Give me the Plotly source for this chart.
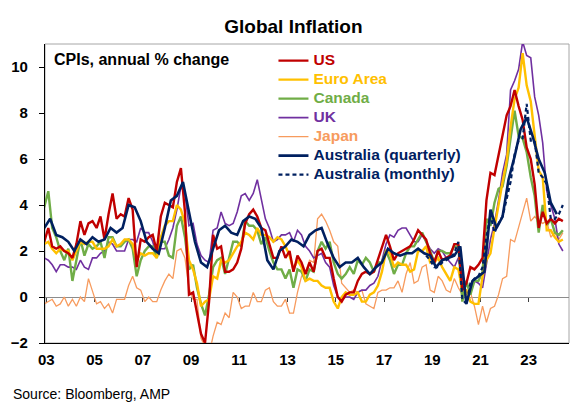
import pandas as pd
import plotly.graph_objects as go

# ---- data (annual % change), bimonthly grid Dec-2002 .. Jun-2024 ----
dates_m = pd.date_range("2002-12-01", "2024-06-01", freq="2MS")

us = [2.4,
      3.0, 2.2, 2.1, 2.2, 2.0, 1.9,
      1.7, 2.3, 3.3, 2.7, 3.2, 3.3,
      3.0, 3.5, 2.5, 3.6, 4.5, 3.4,
      3.6, 3.5, 4.3, 3.8, 1.3, 2.5,
      2.4, 2.6, 2.7, 2.0, 3.5, 4.1,
      4.0, 3.9, 5.0, 5.6, 3.7, 0.1,
      0.2, -0.7, -1.6, -2.0, -0.2, 2.7,
      2.1, 2.2, 1.1, 1.1, 1.2, 1.5,
      2.1, 3.2, 3.6, 3.8, 3.5, 3.0,
      2.9, 2.3, 1.7, 1.7, 2.2, 1.7,
      2.0, 1.1, 1.8, 1.5, 1.0, 1.5,
      1.1, 2.0, 2.1, 1.7, 1.7, 0.8,
      0.0, -0.2, 0.1, 0.2, 0.2, 0.7,
      1.0, 1.1, 1.0, 1.1, 1.6, 2.1,
      2.7, 2.2, 1.6, 1.9, 2.0, 2.1,
      2.2, 2.5, 2.9, 2.7, 2.5, 1.9,
      1.5, 2.0, 1.6, 1.7, 1.8, 2.3,
      2.3, 0.3, 0.6, 1.3, 1.2, 1.4,
      1.7, 4.2, 5.4, 5.3, 6.2, 7.0,
      7.9, 8.3, 9.0, 8.3, 7.7, 6.5,
      6.0, 4.9, 3.0, 3.7, 3.2, 3.4,
      3.2, 3.4, 3.3]

euro = [2.3,
        2.4, 2.1, 1.9, 2.1, 2.0, 2.0,
        1.6, 2.0, 2.4, 2.3, 2.4, 2.4,
        2.1, 2.1, 2.1, 2.2, 2.5, 2.2,
        2.3, 2.5, 2.5, 2.3, 1.6, 1.9,
        1.8, 1.9, 1.9, 1.7, 2.6, 3.1,
        3.3, 3.3, 4.0, 3.8, 3.2, 1.6,
        1.2, 0.6, -0.4, -0.2, -0.1, 0.9,
        0.8, 1.6, 1.5, 1.6, 1.9, 2.2,
        2.4, 2.8, 2.7, 2.5, 3.0, 2.7,
        2.7, 2.6, 2.4, 2.6, 2.5, 2.2,
        1.8, 1.2, 1.6, 1.3, 0.7, 0.8,
        0.7, 0.7, 0.5, 0.4, 0.4, -0.2,
        -0.5, 0.0, 0.2, 0.1, 0.1, 0.2,
        -0.2, -0.2, 0.1, 0.2, 0.5, 1.1,
        2.0, 1.9, 1.3, 1.5, 1.4, 1.4,
        1.1, 1.2, 2.0, 2.0, 2.2, 1.5,
        1.5, 1.7, 1.3, 1.0, 0.7, 1.3,
        1.2, 0.3, 0.3, -0.2, -0.3, -0.3,
        0.9, 1.6, 1.9, 3.0, 4.1, 5.0,
        5.9, 7.4, 8.6, 9.1, 10.6, 9.2,
        8.5, 7.0, 5.5, 5.2, 2.9, 2.9,
        2.6, 2.4, 2.5]

canada = [3.9,
          4.6, 3.0, 2.6, 2.0, 1.6, 2.1,
          0.7, 1.6, 2.5, 1.8, 2.3, 2.1,
          2.2, 2.4, 1.7, 2.6, 2.6, 2.2,
          2.2, 2.4, 2.5, 2.1, 0.9, 1.6,
          2.0, 2.2, 2.2, 1.7, 2.4, 2.4,
          1.8, 1.7, 3.1, 3.5, 2.6, 1.2,
          1.4, 0.4, -0.3, -0.8, 0.1, 1.3,
          1.6, 1.7, 1.0, 1.7, 2.4, 2.4,
          2.2, 3.3, 3.1, 3.1, 2.9, 2.3,
          2.6, 2.0, 1.5, 1.2, 1.2, 0.8,
          1.2, 0.4, 1.2, 1.1, 0.7, 1.2,
          1.1, 2.0, 2.4, 2.1, 2.4, 1.5,
          1.0, 0.8, 1.0, 1.3, 1.0, 1.6,
          1.4, 1.7, 1.5, 1.1, 1.5, 1.5,
          2.0, 1.6, 1.0, 1.4, 1.4, 1.9,
          2.2, 2.2, 2.5, 2.8, 2.4, 2.0,
          1.5, 2.0, 2.0, 1.9, 1.9, 2.2,
          2.2, -0.2, 0.7, 0.1, 0.7, 0.7,
          1.1, 3.4, 3.1, 4.1, 4.7, 4.8,
          5.7, 6.8, 8.1, 7.0, 6.9, 6.3,
          5.2, 4.4, 2.8, 4.0, 3.1, 3.4,
          2.8, 2.7, 2.9]

uk = [1.7,
      1.6, 1.4, 1.1, 1.4, 1.4, 1.3,
      1.3, 1.2, 1.6, 1.3, 1.2, 1.7,
      1.7, 1.9, 2.0, 2.4, 2.3, 2.0,
      2.0, 2.0, 2.5, 2.5, 2.4, 3.0,
      2.8, 2.8, 2.4, 1.8, 2.1, 2.1,
      2.5, 3.0, 3.8, 4.8, 4.5, 3.1,
      3.2, 2.3, 1.8, 1.6, 1.5, 2.9,
      3.0, 3.7, 3.2, 3.1, 3.2, 3.7,
      4.4, 4.5, 4.2, 4.5, 5.1, 4.2,
      3.4, 3.0, 2.4, 2.5, 2.7, 2.7,
      2.8, 2.4, 2.9, 2.7, 2.2, 2.0,
      1.7, 1.8, 1.9, 1.5, 1.3, 0.5,
      0.0, -0.1, 0.0, 0.0, -0.1, 0.2,
      0.3, 0.3, 0.5, 0.6, 0.9, 1.6,
      2.3, 2.7, 2.6, 2.9, 3.0, 3.0,
      2.7, 2.4, 2.4, 2.7, 2.4, 2.1,
      1.9, 2.1, 2.0, 1.7, 1.5, 1.3,
      1.7, 0.8, 0.6, 0.2, 0.7, 0.6,
      0.4, 1.5, 2.5, 3.2, 4.2, 5.4,
      6.2, 9.0, 9.4, 9.9, 11.1, 10.5,
      10.4, 8.7, 7.9, 6.7, 4.6, 4.0,
      3.4, 2.3, 2.0]

japan = [-0.3,
         -0.2, -0.1, -0.4, -0.3, 0.0, -0.4,
         -0.1, -0.4, 0.0, -0.2, 0.8, 0.2,
         -0.3, -0.2, -0.5, -0.3, -0.7, -0.1,
         -0.1, -0.1, 0.5, 0.9, 0.4, 0.3,
         -0.2, 0.0, -0.2, -0.2, 0.3, 0.7,
         1.0, 0.8, 2.0, 2.1, 1.7, 0.4,
         -0.1, -0.1, -1.8, -2.2, -2.5, -1.7,
         -1.1, -1.2, -0.7, -0.9, 0.2, 0.0,
         -0.5, -0.4, -0.4, 0.2, -0.2, -0.2,
         0.3, 0.4, -0.2, -0.4, -0.4, -0.1,
         -0.7, -0.7, 0.2, 0.9, 1.1, 1.6,
         1.5, 3.4, 3.6, 3.3, 2.9, 2.4,
         2.2, 0.6, 0.4, 0.2, 0.3, 0.2,
         0.3, -0.3, -0.4, -0.5, 0.2, 0.3,
         0.3, 0.4, 0.4, 0.7, 0.2, 1.0,
         1.5, 0.6, 0.7, 1.3, 1.4, 0.3,
         0.2, 0.9, 0.7, 0.3, 0.2, 0.8,
         0.4, 0.1, 0.1, 0.2, -0.4, -1.2,
         -0.4, -1.1, -0.5, -0.4, 0.1, 0.8,
         0.9, 2.5, 2.4, 3.0, 3.7, 4.3,
         3.3, 3.5, 3.3, 3.2, 3.3, 2.6,
         2.8, 2.5, 2.8]

# Australia quarterly CPI, Dec-2002 .. Mar-2024
dates_q = pd.date_range("2002-12-01", "2024-03-01", freq="3MS")
aus_q = [3.0,
         3.4, 2.7, 2.6, 2.4,
         2.0, 2.5, 2.3, 2.6,
         2.4, 2.5, 3.0, 2.8,
         3.0, 4.0, 3.9, 3.3,
         2.4, 2.1, 1.9, 3.0,
         4.2, 4.4, 5.0, 3.7,
         2.4, 1.5, 1.3, 2.1,
         2.9, 3.1, 2.8, 2.7,
         3.3, 3.5, 3.4, 3.0,
         1.6, 1.2, 2.0, 2.2,
         2.5, 2.4, 2.2, 2.7,
         2.9, 3.0, 2.3, 1.7,
         1.3, 1.5, 1.5, 1.7,
         1.3, 1.0, 1.3, 1.5,
         2.1, 1.9, 1.8, 1.9,
         1.9, 2.1, 1.9, 1.8,
         1.3, 1.6, 1.7, 1.8,
         2.2, -0.3, 0.7, 0.9,
         1.1, 3.8, 3.0, 3.5,
         5.1, 6.1, 7.3, 7.8,
         7.0, 6.0, 5.4, 4.1,
         3.6]

# Australia monthly CPI indicator, Oct-2018 .. Jun-2024 (bimonthly)
dates_am = pd.date_range("2018-10-01", "2024-06-01", freq="2MS")
aus_m = [1.8, 1.6,
         1.3, 1.3, 1.5, 1.6, 1.7, 1.9,
         2.4, -0.1, -0.3, 0.6, 0.8, 0.9,
         1.3, 2.6, 3.6, 2.8, 3.2, 3.5,
         4.3, 5.0, 6.2, 6.8, 6.9, 8.4,
         6.8, 6.8, 5.4, 5.2, 4.9, 3.4,
         3.4, 3.6, 4.0]

tick_years = [2003, 2005, 2007, 2009, 2011, 2013, 2015, 2017, 2019, 2021, 2023]
tick_text = ["03", "05", "07", "09", "11", "13", "15", "17", "19", "21", "23"]

# ---- styles ----
C_US, C_EU, C_CA, C_UK, C_JP, C_AU = "#C00000", "#FFC000", "#70AD47", "#7030A0", "#F79B5E", "#002060"
FONT = "Liberation Sans, Arial, sans-serif"

def nm(label, color):
    return f"<span style='color:{color};font-size:15.5px'>{label}</span>"

fig = go.Figure()
series = [
    (japan, dates_m, "Japan", C_JP, 1.3, "solid", 5),
    (uk, dates_m, "UK", C_UK, 1.6, "solid", 4),
    (canada, dates_m, "Canada", C_CA, 2.4, "solid", 3),
    (euro, dates_m, "Euro Area", C_EU, 2.4, "solid", 2),
    (us, dates_m, "US", C_US, 2.4, "solid", 1),
    (aus_q, dates_q, "Australia (quarterly)", C_AU, 2.6, "solid", 6),
    (aus_m, dates_am, "Australia (monthly)", C_AU, 2.2, "4px,3px", 7),
]
for vals, dts, label, col, w, dash, rank in series:
    fig.add_trace(go.Scatter(x=dts, y=vals, mode="lines", name=nm(label, col),
                             line=dict(color=col, width=w, dash=dash),
                             legendrank=rank, hoverinfo="skip"))

# dummy trace to carry the zero-line axis with its tick marks
fig.add_trace(go.Scatter(x=[dates_m[0]], y=[None], xaxis="x2", showlegend=False,
                         hoverinfo="skip", mode="lines"))

tickvals = [pd.Timestamp(f"{y}-01-01") for y in tick_years]
xrange_ = ["2002-12-13", "2024-09-02"]

fig.update_layout(
    width=581, height=412,
    margin=dict(l=45, r=12, t=44, b=69),
    paper_bgcolor="white", plot_bgcolor="white",
    font=dict(family=FONT, color="black"),
    title=dict(text="<b>Global Inflation</b>", x=0.505, xanchor="center",
               y=1 - 26 / 412, yanchor="middle", font=dict(size=19, color="black")),
    showlegend=True,
    legend=dict(x=0.436, y=0.993, xanchor="left", yanchor="top",
                bgcolor="rgba(0,0,0,0)", font=dict(size=11.8, weight="bold", family=FONT),
                itemwidth=30, tracegroupgap=0, traceorder="normal"),
    xaxis=dict(type="date", range=xrange_, tickvals=tickvals, ticktext=tick_text,
               showgrid=False, zeroline=False, showline=True, linecolor="black",
               linewidth=1.3, ticks="", ticklabelstandoff=3,
               tickfont=dict(size=15, weight="bold")),
    xaxis2=dict(type="date", overlaying="x", matches="x", anchor="free", position=2 / 13,
                side="bottom", showline=True, linecolor="#8C8C8C", linewidth=1,
                ticks="outside", ticklen=4, tickcolor="#404040", tickwidth=1,
                tickvals=tickvals, showticklabels=False, showgrid=False,
                zeroline=False, layer="below traces"),
    yaxis=dict(range=[-2, 11], dtick=2, tick0=0, showgrid=False, zeroline=False,
               showline=True, linecolor="black", linewidth=1.3,
               ticks="outside", ticklen=5, tickcolor="black", ticklabelstandoff=8,
               tickfont=dict(size=15, weight="bold")),
    shapes=[dict(type="rect", xref="paper", yref="paper", x0=0, x1=1, y0=0, y1=1,
                 line=dict(color="#A6A6A6", width=1), layer="below")],
    annotations=[
        dict(text="<b>CPIs, annual % change</b>", xref="paper", yref="paper",
             x=0.013, y=0.949, xanchor="left", yanchor="middle", showarrow=False,
             font=dict(size=16, color="black")),
        dict(text="Source: Bloomberg, AMP", xref="paper", yref="paper",
             x=-0.065, y=-0.172, xanchor="left", yanchor="middle", showarrow=False,
             font=dict(size=14, color="black")),
    ],
)

fig.write_html("out.html", config={"displayModeBar": False},
               post_script="document.body.style.margin='0';")
